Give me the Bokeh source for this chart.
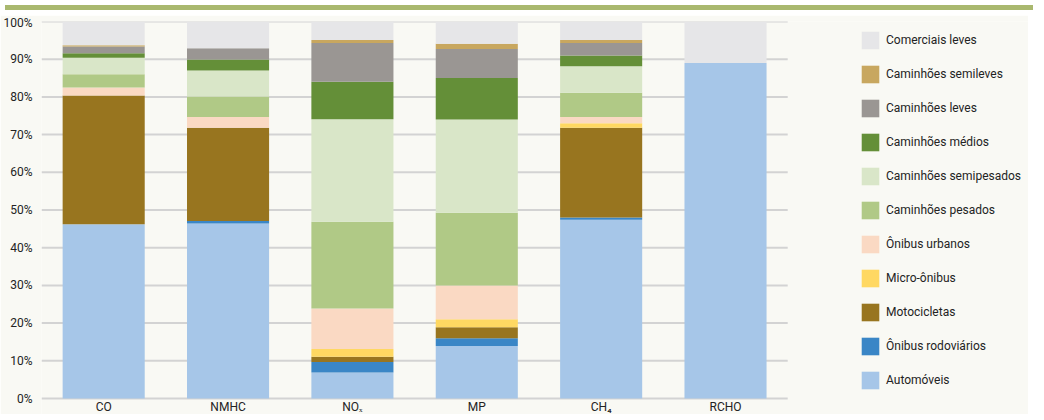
from bokeh.plotting import figure
from bokeh.models import (Range1d, FixedTicker, PrintfTickFormatter,
                          Legend, LegendItem, Div, ColumnDataSource)
from bokeh.core.properties import value
from bokeh.layouts import column
from bokeh.embed import file_html
from bokeh.resources import INLINE

# ---------------- data ----------------
categories = ["CO", "NMHC", "NOₓ", "MP", "CH₄", "RCHO"]

series_names = ["Automóveis", "Ônibus rodoviários", "Motocicletas", "Micro-ônibus",
                "Ônibus urbanos", "Caminhões pesados", "Caminhões semipesados",
                "Caminhões médios", "Caminhões leves", "Caminhões semileves",
                "Comerciais leves"]

automoveis            = [46.2, 46.4,  6.9, 13.9, 47.4, 89.0]
onibus_rodoviarios    = [ 0.0,  0.7,  2.8,  2.1,  0.6,  0.0]
motocicletas          = [34.2, 24.7,  1.4,  2.9, 23.8,  0.0]
micro_onibus          = [ 0.0,  0.0,  2.0,  2.1,  1.2,  0.0]
onibus_urbanos        = [ 2.1,  2.9, 10.8,  9.0,  1.7,  0.0]
caminhoes_pesados     = [ 3.5,  5.4, 23.0, 19.3,  6.4,  0.0]
caminhoes_semipesados = [ 4.4,  6.9, 27.2, 24.7,  7.0,  0.0]
caminhoes_medios      = [ 1.2,  2.9,  9.9, 11.0,  2.9,  0.0]
caminhoes_leves       = [ 1.8,  3.0, 10.3,  7.7,  3.3,  0.0]
caminhoes_semileves   = [ 0.3,  0.0,  0.8,  1.4,  0.8,  0.0]
comerciais_leves      = [ 6.3,  7.1,  4.9,  5.9,  4.9, 11.0]

y_ticks = [0, 10, 20, 30, 40, 50, 60, 70, 80, 90, 100]

colors = ["#a6c6e8", "#3a86c6", "#98751f", "#ffd862", "#fad9c3", "#b0c986",
          "#d9e6c8", "#648f38", "#9a9693", "#c8a75f", "#e6e6e8"]

values = [automoveis, onibus_rodoviarios, motocicletas, micro_onibus, onibus_urbanos,
          caminhoes_pesados, caminhoes_semipesados, caminhoes_medios, caminhoes_leves,
          caminhoes_semileves, comerciais_leves]

xpos = list(range(len(categories)))
keys = ["s%d" % i for i in range(len(series_names))]
data = {"x": xpos, "cat": categories}
for k, v in zip(keys, values):
    data[k] = v
source = ColumnDataSource(data)

# ---------------- styles ----------------
BG = "#f9f9f4"
FONT = "Roboto"
TXT = "#232323"

PX_PER_CAT = 125.5
FRAME_W = 996
PX_PER_UNIT = 3.77
x_start = -0.5
x_end = x_start + FRAME_W / PX_PER_CAT
y_start = -16 / PX_PER_UNIT

p = figure(x_range=Range1d(x_start, x_end), y_range=Range1d(y_start, 100),
           width=1028, height=399, output_backend="svg", toolbar_location=None,
           min_border_left=32, min_border_right=0, min_border_top=6, min_border_bottom=0,
           background_fill_color=BG, border_fill_color=BG, outline_line_color=None)

p.xaxis.visible = False
p.xgrid.grid_line_color = None
p.ygrid.grid_line_color = None

# horizontal gridlines spanning the category band only
p.segment(x0=[x_start] * len(y_ticks), x1=[len(categories) - 0.5] * len(y_ticks),
          y0=y_ticks, y1=y_ticks, line_color="#d3d3d3", line_width=2)

renderers = p.vbar_stack(keys, x="x", width=0.66, color=colors, line_color=None,
                         source=source)

# category labels under the bars
p.text(x="x", y=-8 / PX_PER_UNIT, text="cat", source=source, text_font=value(FONT),
       text_font_size="12px", text_color=TXT, text_align="center", text_baseline="middle")

p.yaxis.ticker = FixedTicker(ticks=y_ticks)
p.yaxis.formatter = PrintfTickFormatter(format="%d%%")
p.yaxis.axis_line_color = None
p.yaxis.major_tick_line_color = None
p.yaxis.minor_tick_line_color = None
p.yaxis.major_label_text_font = FONT
p.yaxis.major_label_text_color = TXT
p.yaxis.major_label_text_font_size = "12px"
p.yaxis.major_label_standoff = 3

items = [LegendItem(label=n, renderers=[r]) for n, r in zip(series_names, renderers)][::-1]
legend = Legend(items=items, location=(818, 23), orientation="vertical",
                glyph_width=22, glyph_height=22, label_height=22, spacing=12,
                label_standoff=5, padding=0, margin=0,
                label_text_font=FONT, label_text_font_size="12px", label_text_color=TXT,
                background_fill_alpha=0, border_line_color=None)
p.add_layout(legend, "center")

band = Div(text="", width=1028, height=5, styles={"background-color": "#a9b86f"})
layout = column(band, p, spacing=0)

open("out.html", "w").write(file_html(layout, INLINE))
